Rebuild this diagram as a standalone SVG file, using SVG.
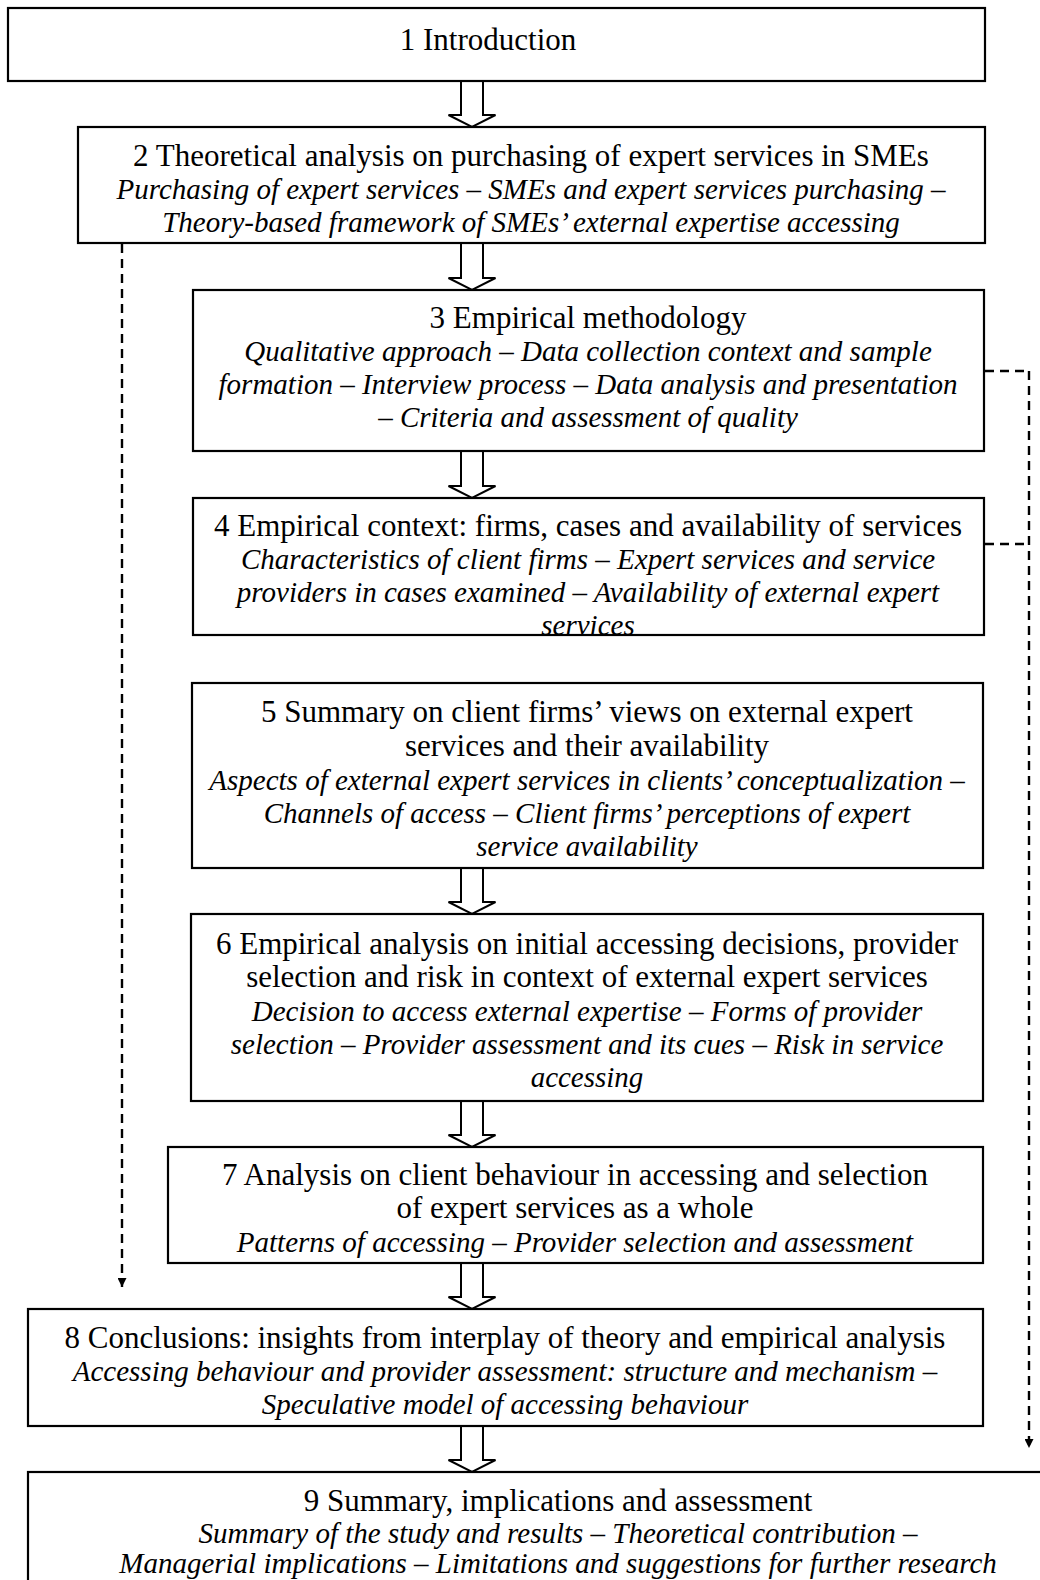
<svg xmlns="http://www.w3.org/2000/svg" width="1040" height="1580" viewBox="0 0 1040 1580">
  <style>
    .box { fill: #ffffff; stroke: #000000; stroke-width: 2.2; }
    .t { font-family: "Liberation Serif", "Times New Roman", serif; font-size: 31px; fill: #000000; text-anchor: middle; }
    .i { font-family: "Liberation Serif", "Times New Roman", serif; font-size: 29px; font-style: italic; fill: #000000; text-anchor: middle; }
    .flow { fill: #ffffff; stroke: #000000; stroke-width: 2; stroke-linejoin: miter; }
    .dash { fill: none; stroke: #000000; stroke-width: 2.4; stroke-dasharray: 9 6; }
  </style>
  <defs>
    <marker id="tip" viewBox="0 0 10 10" refX="10" refY="5" markerWidth="10" markerHeight="9" markerUnits="userSpaceOnUse" orient="auto">
      <path d="M0,0 L10,5 L0,10 Z" fill="#000000"/>
    </marker>
    <clipPath id="clip4">
      <rect x="193" y="498" width="791" height="136"/>
    </clipPath>
  </defs>

  <rect width="1040" height="1580" fill="#ffffff"/>

  <!-- connectors: hollow block arrows between chapters, dashed links -->
  <g id="connectors">
    <polyline class="flow" points="461,81 461,115 448.5,115 472,127 495.5,115 483,115 483,81"/>
    <polyline class="flow" points="461,243 461,278 448.5,278 472,290 495.5,278 483,278 483,243"/>
    <polyline class="flow" points="461,451 461,486 448.5,486 472,498 495.5,486 483,486 483,451"/>
    <polyline class="flow" points="461,868 461,902 448.5,902 472,914 495.5,902 483,902 483,868"/>
    <polyline class="flow" points="461,1101 461,1135 448.5,1135 472,1147 495.5,1135 483,1135 483,1101"/>
    <polyline class="flow" points="461,1263 461,1297 448.5,1297 472,1309 495.5,1297 483,1297 483,1263"/>
    <polyline class="flow" points="461,1426 461,1460 448.5,1460 472,1472 495.5,1460 483,1460 483,1426"/>

    <line class="dash" x1="122" y1="244" x2="122" y2="1287" marker-end="url(#tip)"/>
    <line class="dash" x1="985" y1="371" x2="1029" y2="371"/>
    <line class="dash" x1="985" y1="544" x2="1029" y2="544"/>
    <line class="dash" x1="1029" y1="371" x2="1029" y2="1448" marker-end="url(#tip)"/>
  </g>

  <g id="ch1">
    <rect class="box" x="8" y="8" width="977" height="73"/>
    <text class="t" x="488" y="50">1 Introduction</text>
  </g>

  <g id="ch2">
    <rect class="box" x="78" y="127" width="907" height="116"/>
    <text class="t" x="531" y="166">2 Theoretical analysis on purchasing of expert services in SMEs</text>
    <text class="i" x="531" y="199">Purchasing of expert services – SMEs and expert services purchasing –</text>
    <text class="i" x="531" y="232">Theory-based framework of SMEs’ external expertise accessing</text>
  </g>

  <g id="ch3">
    <rect class="box" x="193" y="290" width="791" height="161"/>
    <text class="t" x="588" y="328">3 Empirical methodology</text>
    <text class="i" x="588" y="361">Qualitative approach – Data collection context and sample</text>
    <text class="i" x="588" y="394">formation – Interview process – Data analysis and presentation</text>
    <text class="i" x="588" y="427">– Criteria and assessment of quality</text>
  </g>

  <g id="ch4">
    <rect class="box" x="193" y="498" width="791" height="137"/>
    <g clip-path="url(#clip4)">
      <text class="t" x="588" y="536">4 Empirical context: firms, cases and availability of services</text>
      <text class="i" x="588" y="569">Characteristics of client firms – Expert services and service</text>
      <text class="i" x="588" y="602">providers in cases examined – Availability of external expert</text>
      <text class="i" x="588" y="635">services</text>
    </g>
  </g>

  <g id="ch5">
    <rect class="box" x="192" y="683" width="791" height="185"/>
    <text class="t" x="587" y="722">5 Summary on client firms’ views on external expert</text>
    <text class="t" x="587" y="756">services and their availability</text>
    <text class="i" x="587" y="790">Aspects of external expert services in clients’ conceptualization –</text>
    <text class="i" x="587" y="823">Channels of access – Client firms’ perceptions of expert</text>
    <text class="i" x="587" y="856">service availability</text>
  </g>

  <g id="ch6">
    <rect class="box" x="191" y="914" width="792" height="187"/>
    <text class="t" x="587" y="954">6 Empirical analysis on initial accessing decisions, provider</text>
    <text class="t" x="587" y="987">selection and risk in context of external expert services</text>
    <text class="i" x="587" y="1021">Decision to access external expertise – Forms of provider</text>
    <text class="i" x="587" y="1054">selection – Provider assessment and its cues – Risk in service</text>
    <text class="i" x="587" y="1087">accessing</text>
  </g>

  <g id="ch7">
    <rect class="box" x="168" y="1147" width="815" height="116"/>
    <text class="t" x="575" y="1185">7 Analysis on client behaviour in accessing and selection</text>
    <text class="t" x="575" y="1218">of expert services as a whole</text>
    <text class="i" x="575" y="1252">Patterns of accessing – Provider selection and assessment</text>
  </g>

  <g id="ch8">
    <rect class="box" x="28" y="1309" width="955" height="117"/>
    <text class="t" x="505" y="1348">8 Conclusions: insights from interplay of theory and empirical analysis</text>
    <text class="i" x="505" y="1381">Accessing behaviour and provider assessment: structure and mechanism –</text>
    <text class="i" x="505" y="1414">Speculative model of accessing behaviour</text>
  </g>

  <g id="ch9">
    <rect class="box" x="28" y="1472" width="1100" height="160"/>
    <text class="t" x="558" y="1511">9 Summary, implications and assessment</text>
    <text class="i" x="558" y="1543">Summary of the study and results – Theoretical contribution –</text>
    <text class="i" x="558" y="1573">Managerial implications – Limitations and suggestions for further research</text>
  </g>
</svg>
